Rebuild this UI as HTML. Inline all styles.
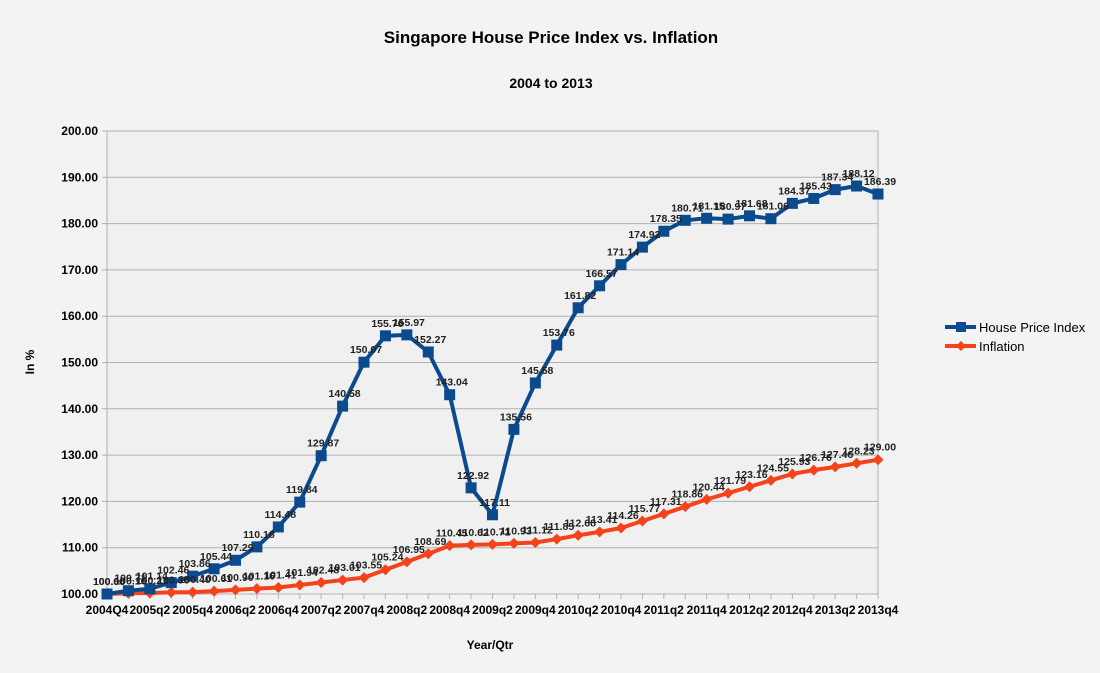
<!DOCTYPE html>
<html><head><meta charset="utf-8"><style>
body{margin:0;background:#f3f3f3;}
svg{display:block;font-family:"Liberation Sans",Arial,sans-serif;}
</style></head><body>
<svg id="chart" width="1100" height="673" viewBox="0 0 1100 673">
<rect width="1100" height="673" fill="#f3f3f3"/>
<text x="551" y="43" text-anchor="middle" font-size="17" font-weight="bold">Singapore House Price Index vs. Inflation</text>
<text x="551" y="88" text-anchor="middle" font-size="14" font-weight="bold">2004 to 2013</text>
<text transform="translate(34,362) rotate(-90)" text-anchor="middle" font-size="12" font-weight="bold">In %</text>
<text x="490" y="649" text-anchor="middle" font-size="12" font-weight="bold">Year/Qtr</text>
<g id="grid"></g><g id="axes"></g><g id="series"></g><g id="labels"></g>
<g>
<g>
<line x1="945" y1="327" x2="976" y2="327" stroke="#0b4a8c" stroke-width="4"/>
<rect x="956" y="322" width="10" height="10" fill="#0b4a8c"/>
<text x="979" y="332" font-size="13">House Price Index</text></g>
<g>
<line x1="945" y1="346" x2="976" y2="346" stroke="#f4431a" stroke-width="4"/>
<polygon points="961,341 966,346 961,351 956,346" fill="#f4431a"/>
<text x="979" y="351" font-size="13">Inflation</text></g>
</g>
</svg>
<script>
const categories=["2004Q4","2005q1","2005q2","2005q3","2005q4","2006q1","2006q2","2006q3","2006q4","2007q1","2007q2","2007q3","2007q4","2008q1","2008q2","2008q3","2008q4","2009q1","2009q2","2009q3","2009q4","2010q1","2010q2","2010q3","2010q4","2011q1","2011q2","2011q3","2011q4","2012q1","2012q2","2012q3","2012q4","2013q1","2013q2","2013q3","2013q4"];
const hpi=[100.00,100.71,101.14,102.46,103.86,105.44,107.29,110.18,114.48,119.84,129.87,140.58,150.07,155.76,155.97,152.27,143.04,122.92,117.11,135.56,145.58,153.76,161.82,166.57,171.14,174.92,178.35,180.71,181.15,180.97,181.68,181.06,184.37,185.43,187.34,188.12,186.39];
const inflation=[100.00,100.16,100.21,100.36,100.40,100.61,100.90,101.16,101.41,101.94,102.48,103.01,103.55,105.24,106.95,108.69,110.45,110.62,110.71,110.93,111.12,111.85,112.68,113.41,114.26,115.77,117.31,118.86,120.44,121.79,123.16,124.55,125.93,126.76,127.46,128.23,129.00];
const yTicks=[100,110,120,130,140,150,160,170,180,190,200];
const NS="http://www.w3.org/2000/svg";
const X0=107,X1=878,Y0=594,Y1=131,YMIN=100,YMAX=200;
const x=i=>X0+(X1-X0)*i/(categories.length-1);
const y=v=>Y0-(v-YMIN)/(YMAX-YMIN)*(Y0-Y1);
function mk(tag,attrs,parent){const e=document.createElementNS(NS,tag);for(const k in attrs)e.setAttribute(k,attrs[k]);parent.appendChild(e);return e;}
const grid=document.getElementById('grid'),axes=document.getElementById('axes'),series=document.getElementById('series'),labels=document.getElementById('labels');
mk('rect',{x:X0,y:Y1,width:X1-X0,height:Y0-Y1,fill:'#f0f0f0',stroke:'#b0b0b0'},grid);
yTicks.forEach(t=>{
  const l=mk('line',{x1:X0-5,x2:X1,y1:y(t),y2:y(t),stroke:'#b0b0b0'},grid);
  
  
  const tx=mk('text',{x:98,y:y(t)+4,'text-anchor':'end','font-size':12,'font-weight':'bold'},axes);
  tx.textContent=t.toFixed(2);
  
  
});
mk('line',{x1:X0,x2:X0,y1:Y1,y2:Y0+5,stroke:'#b0b0b0'},axes);
categories.forEach((c,i)=>{
  mk('line',{x1:x(i),x2:x(i),y1:Y0,y2:Y0+5,stroke:'#b0b0b0'},axes);
  if(i%2===0){
    const tx=mk('text',{x:x(i),y:614,'text-anchor':'middle','font-size':12,'font-weight':'bold'},axes);
    tx.textContent=c;
    
    
  }
});
function draw(vals,color,shape,name){
  const p=mk('polyline',{points:vals.map((v,i)=>x(i)+','+y(v)).join(' '),fill:'none',stroke:color,'stroke-width':4,'stroke-linejoin':'round'},series);
  
  
  vals.forEach((v,i)=>{
    const cx=x(i),cy=y(v);let m;
    if(shape==='sq')m=mk('rect',{x:cx-5.5,y:cy-5.5,width:11,height:11,fill:color},series);
    else m=mk('polygon',{points:`${cx},${cy-5.5} ${cx+5.5},${cy} ${cx},${cy+5.5} ${cx-5.5},${cy}`,fill:color},series);
    
    
    const t=mk('text',{x:cx+2,y:cy-9,'text-anchor':'middle','font-size':10.5,'font-weight':'bold',fill:'#222'},labels);
    t.textContent=v.toFixed(2);
    
    
  });
}
draw(inflation,'#f4431a','di','inflation');
draw(hpi,'#0b4a8c','sq','hpi');
</script>
</body></html>
